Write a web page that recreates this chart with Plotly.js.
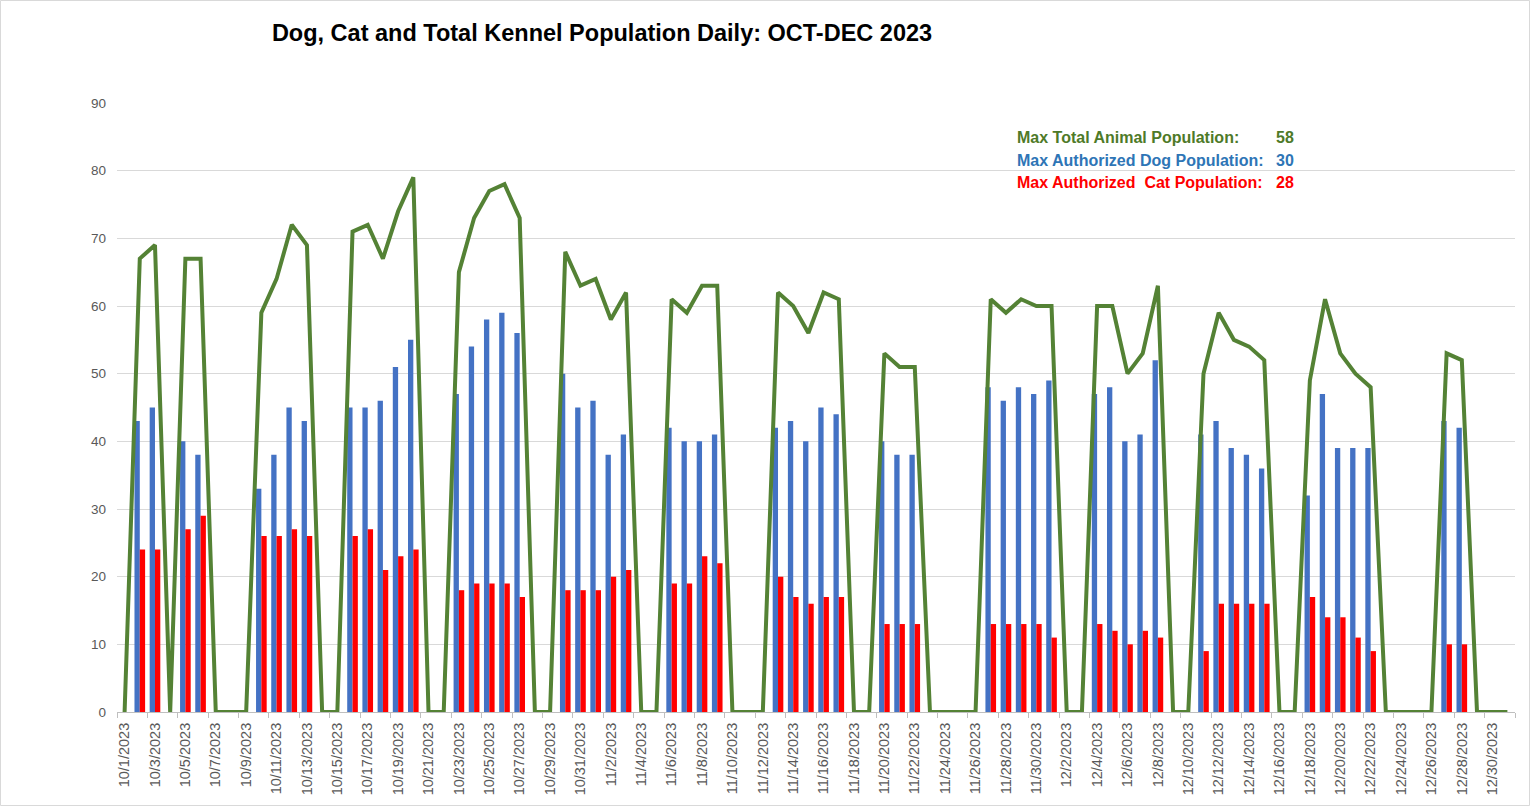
<!DOCTYPE html>
<html>
<head>
<meta charset="utf-8">
<script src="https://cdn.plot.ly/plotly-3.0.1.min.js"></script>
<style>html,body{margin:0;padding:0;background:#fff;}#chart{width:1530px;height:806px;}</style>
</head>
<body>
<div id="chart"></div>
<script>
const dates = [
"10/1/2023","10/2/2023","10/3/2023","10/4/2023","10/5/2023","10/6/2023","10/7/2023","10/8/2023","10/9/2023","10/10/2023",
"10/11/2023","10/12/2023","10/13/2023","10/14/2023","10/15/2023","10/16/2023","10/17/2023","10/18/2023","10/19/2023","10/20/2023",
"10/21/2023","10/22/2023","10/23/2023","10/24/2023","10/25/2023","10/26/2023","10/27/2023","10/28/2023","10/29/2023","10/30/2023",
"10/31/2023","11/1/2023","11/2/2023","11/3/2023","11/4/2023","11/5/2023","11/6/2023","11/7/2023","11/8/2023","11/9/2023",
"11/10/2023","11/11/2023","11/12/2023","11/13/2023","11/14/2023","11/15/2023","11/16/2023","11/17/2023","11/18/2023","11/19/2023",
"11/20/2023","11/21/2023","11/22/2023","11/23/2023","11/24/2023","11/25/2023","11/26/2023","11/27/2023","11/28/2023","11/29/2023",
"11/30/2023","12/1/2023","12/2/2023","12/3/2023","12/4/2023","12/5/2023","12/6/2023","12/7/2023","12/8/2023","12/9/2023",
"12/10/2023","12/11/2023","12/12/2023","12/13/2023","12/14/2023","12/15/2023","12/16/2023","12/17/2023","12/18/2023","12/19/2023",
"12/20/2023","12/21/2023","12/22/2023","12/23/2023","12/24/2023","12/25/2023","12/26/2023","12/27/2023","12/28/2023","12/29/2023",
"12/30/2023","12/31/2023"];

const dogs = [
0,43,45,0,40,38,0,0,0,33,
38,45,43,0,0,45,45,46,51,55,
0,0,47,54,58,59,56,0,0,50,
45,46,38,41,0,0,42,40,40,41,
0,0,0,42,43,40,45,44,0,0,
40,38,38,0,0,0,0,48,46,48,
47,49,0,0,47,48,40,41,52,0,
0,41,43,39,38,36,0,0,32,47,
39,39,39,0,0,0,0,43,42,0,
0,0];

const cats = [
0,24,24,0,27,29,0,0,0,26,
26,27,26,0,0,26,27,21,23,24,
0,0,18,19,19,19,17,0,0,18,
18,18,20,21,0,0,19,19,23,22,
0,0,0,20,17,16,17,17,0,0,
13,13,13,0,0,0,0,13,13,13,
13,11,0,0,13,12,10,12,11,0,
0,9,16,16,16,16,0,0,17,14,
14,11,9,0,0,0,0,10,10,0,
0,0];

const totals = [
0,67,69,0,67,67,0,0,0,59,
64,72,69,0,0,71,72,67,74,79,
0,0,65,73,77,78,73,0,0,68,
63,64,58,62,0,0,61,59,63,63,
0,0,0,62,60,56,62,61,0,0,
53,51,51,0,0,0,0,61,59,61,
60,60,0,0,60,60,50,53,63,0,
0,50,59,55,54,52,0,0,49,61,
53,50,48,0,0,0,0,53,52,0,
0,0];

const noteLabels = ["Max Total Animal Population:", "Max Authorized Dog Population:", "Max Authorized  Cat Population:"];
const noteValues = ["58", "30", "28"];
const noteColors = ["#4E7A28", "#2E75B6", "#FF0000"];

const FONT = "Liberation Sans, Arial, sans-serif";

const traces = [
  {type:"bar", x:dates, y:dogs, name:"Dogs", marker:{color:"#4472C4"}},
  {type:"bar", x:dates, y:cats, name:"Cats", marker:{color:"#FF0000"}},
  {type:"scatter", mode:"lines", x:dates, y:totals, name:"Total", line:{color:"#548235", width:4}}
];

// plot area in pixels: left 117, right 1515, top 103, bottom 712
const L=117, R=1515, T=103, B=712;
const px = v => (v-L)/(R-L);
const py = v => (B-v)/(B-T);

const annotations = [];
const lineY = [137,160,183];
noteLabels.forEach((t,i)=>{
  annotations.push({xref:"paper", yref:"paper", x:px(1015), y:py(lineY[i]), xanchor:"left", yanchor:"middle",
    text:"<b>"+t+"</b>", showarrow:false, font:{family:FONT, size:16, color:noteColors[i]}});
  annotations.push({xref:"paper", yref:"paper", x:px(1296), y:py(lineY[i]), xanchor:"right", yanchor:"middle",
    text:"<b>"+noteValues[i]+"</b>", showarrow:false, font:{family:FONT, size:16, color:noteColors[i]}});
});

const layout = {
  width:1530, height:806,
  margin:{l:L, r:1530-R, t:T, b:806-B, pad:0},
  paper_bgcolor:"#fff", plot_bgcolor:"#fff",
  showlegend:false,
  barmode:"group", bargap:0.3, bargroupgap:0,
  title:{text:"<b>Dog, Cat and Total Kennel Population Daily: OCT-DEC 2023</b>", xref:"container", yref:"container",
    x:602/1530, xanchor:"center", y:1-33/806, yanchor:"middle", font:{family:FONT, size:23.5, color:"#000"}},
  xaxis:{type:"category", tickmode:"linear", tick0:0, dtick:2, tickson:"boundaries",
    ticks:"outside", ticklen:5, tickcolor:"#BFBFBF", tickangle:-90, ticklabelstandoff:4,
    tickfont:{family:FONT, size:14.5, color:"#595959"},
    showgrid:false, showline:true, linecolor:"#BFBFBF", linewidth:1, zeroline:false,
    range:[-0.5, dates.length-0.5], fixedrange:true},
  yaxis:{range:[0,90], tickmode:"linear", tick0:0, dtick:10, showgrid:true, gridcolor:"#D9D9D9", gridwidth:1,
    zeroline:false, showline:false, ticks:"", ticklabelstandoff:10,
    tickfont:{family:FONT, size:13.5, color:"#595959"}, fixedrange:true},
  annotations: annotations,
  shapes:[{type:"rect", xref:"paper", yref:"paper", x0:px(0.5), x1:px(1529.5), y0:py(805.5), y1:py(0.5),
    line:{color:"#D9D9D9", width:1}, fillcolor:"rgba(0,0,0,0)", layer:"below"}]
};

Plotly.newPlot("chart", traces, layout, {displayModeBar:false, staticPlot:true});
</script>
</body>
</html>
